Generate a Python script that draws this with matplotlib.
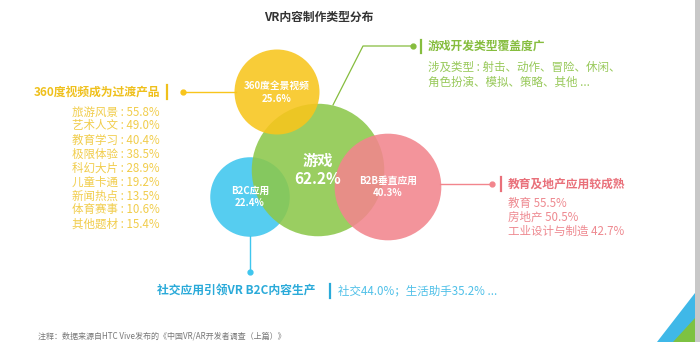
import numpy as np
import matplotlib
matplotlib.use('Agg')
import matplotlib.pyplot as plt
from matplotlib.patches import Circle, Polygon

plt.rcParams['font.family'] = ['Noto Sans CJK SC', 'DejaVu Sans']

# data
circle_labels = ['B2C应用', '游戏', '360度全景视频', 'B2B垂直应用']
circle_values = [22.4, 62.2, 25.6, 40.3]
video_items = ['旅游风景', '艺术人文', '教育学习', '极限体验', '科幻大片',
               '儿童卡通', '新闻热点', '体育赛事', '其他题材']
video_values = [55.8, 49.0, 40.4, 38.5, 28.9, 19.2, 13.5, 10.6, 15.4]
game_types = ['射击', '动作', '冒险', '休闲', '角色扮演', '模拟', '策略', '其他']
b2b_items = ['教育', '房地产', '工业设计与制造']
b2b_values = [55.5, 50.5, 42.7]
social_items = ['社交', '生活助手']
social_values = [44.0, 35.2]

# layout (pixel space, 700x342)
centers = [(250, 197), (318, 170), (277, 92), (388, 187)]
colors = ['#3fc6ee', '#8cc84b', '#f8c51c', '#f2858d']
text_col = {'yellow': '#efc01c', 'yellow2': '#f1cd4c', 'green': '#86bd3e',
            'green2': '#98c95a', 'pink': '#e9707a', 'pink2': '#ee8990',
            'blue': '#2aaad9', 'blue2': '#4fc0e8'}

fig = plt.figure(figsize=(7, 3.42), dpi=100)
ax = fig.add_axes([0, 0, 1, 1])
ax.set_xlim(0, 700)
ax.set_ylim(342, 0)
ax.axis('off')

# bubbles, area proportional to value
for (cx, cy), v, c, z in zip(centers, circle_values, colors, [2, 3, 4, 5]):
    ax.add_patch(Circle((cx, cy), 8.4 * np.sqrt(v), color=c, alpha=0.88, lw=0, zorder=z))

for i, ((cx, cy), lab, v) in enumerate(zip(centers, circle_labels, circle_values)):
    fs = 11 if i == 1 else 7
    gap = 9 if i == 1 else 6.5
    ax.text(cx, cy - gap, lab, color='white', fontsize=fs, fontweight='bold',
            ha='center', va='center', zorder=10)
    ax.text(cx, cy + gap, f'{v}%', color='white', fontsize=fs, fontweight='bold',
            ha='center', va='center', zorder=10)

ax.text(319, 17, 'VR内容制作类型分布', fontsize=8.5, fontweight='bold',
        color='#333333', ha='center', va='center')

# left: 360 video
ax.plot([183, 236], [92, 92], color=colors[2], lw=1, zorder=1)
ax.plot(183, 92, 'o', color=colors[2], ms=3.5)
ax.plot([167, 167], [85, 99], color=text_col['yellow'], lw=1.6)
ax.text(160, 92, '360度视频成为过渡产品', fontsize=8.5, fontweight='bold',
        color=text_col['yellow'], ha='right', va='center')
for i, (it, v) in enumerate(zip(video_items, video_values)):
    ax.text(160, 112 + i * 14.0, f'{it} : {v:.1f}%', fontsize=8.3,
            color=text_col['yellow2'], ha='right', va='center')

# top right: games
ax.plot([333, 363, 413], [105, 46, 46], color=text_col['green'], lw=0.9, zorder=1)
ax.plot(413, 46, 'o', color=text_col['green'], ms=3.5)
ax.plot([421, 421], [40, 53], color=text_col['green'], lw=1.6)
ax.text(428, 46, '游戏开发类型覆盖度广', fontsize=8.5, fontweight='bold',
        color=text_col['green'], ha='left', va='center')
ax.text(428, 67, '涉及类型 : ' + '、'.join(game_types[:4]) + '、', fontsize=8.3,
        color=text_col['green2'], ha='left', va='center')
ax.text(428, 82, '、'.join(game_types[4:]) + ' ...', fontsize=8.3,
        color=text_col['green2'], ha='left', va='center')

# right: B2B
ax.plot([440, 492], [184, 184], color=colors[3], lw=1, zorder=1)
ax.plot(492, 184, 'o', color=colors[3], ms=3.5)
ax.plot([501, 501], [177, 191], color=text_col['pink'], lw=1.6)
ax.text(508, 184, '教育及地产应用较成熟', fontsize=8.5, fontweight='bold',
        color=text_col['pink'], ha='left', va='center')
for i, (it, v) in enumerate(zip(b2b_items, b2b_values)):
    ax.text(508, 203 + i * 14, f'{it} {v}%', fontsize=8.3,
            color=text_col['pink2'], ha='left', va='center')

# bottom: B2C
ax.plot([250, 250], [236, 272], color=colors[0], lw=1, zorder=1)
ax.plot(250, 272, 'o', color=colors[0], ms=3.5)
ax.text(157, 291, '社交应用引领VR B2C内容生产', fontsize=8.5, fontweight='bold',
        color=text_col['blue'], ha='left', va='center')
ax.plot([330, 330], [284, 298], color=text_col['blue'], lw=1.6)
ax.text(338, 291, '；'.join(f'{a}{b}%' for a, b in zip(social_items, social_values)) + ' ...',
        fontsize=8.3, color=text_col['blue2'], ha='left', va='center')

# footnote
ax.text(38, 336, '注释：数据来源自HTC Vive发布的《中国VR/AR开发者调查（上篇）》',
        fontsize=5.8, color='#777777', ha='left', va='center')

# page decoration
ax.add_patch(Polygon([(695, 0), (700, 0), (700, 342), (695, 342)], color='#c8c8c8', lw=0))
ax.add_patch(Polygon([(657, 342), (695, 293), (695, 342)], color='#3fb8e8', lw=0))
ax.add_patch(Polygon([(673, 342), (695, 318), (695, 342)], color='#7dc242', lw=0))

fig.savefig('out.png', dpi=100)
